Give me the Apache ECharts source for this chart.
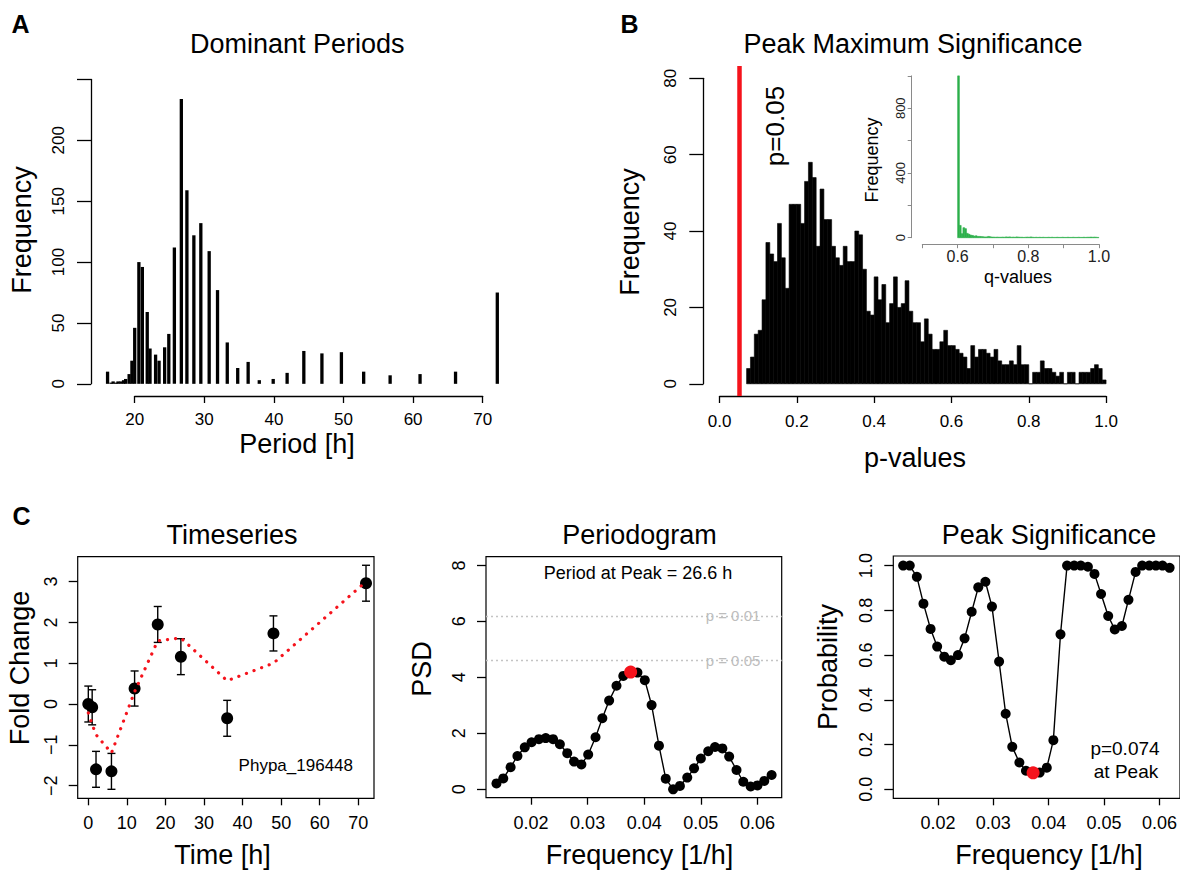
<!DOCTYPE html>
<html><head><meta charset="utf-8">
<script src="https://cdn.jsdelivr.net/npm/echarts@6/dist/echarts.min.js"></script>
<style>html,body{margin:0;padding:0;background:#fff}#c{width:1180px;height:872px}</style>
</head><body><div id="c"></div>
<script>
// ---------------- DATA ----------------
// Panel A: dominant periods histogram
const periodsA = [16.1, 16.6, 16.9, 17.3, 17.6, 18.0, 18.4, 18.7, 19.2, 19.6, 20.0, 20.6, 21.1, 21.8, 22.2, 23.0, 23.5, 24.3, 24.9, 25.7, 26.7, 27.5, 28.5, 29.5, 30.7, 31.9, 33.3, 34.8, 36.3, 37.9, 39.9, 41.9, 44.3, 46.9, 49.7, 52.9, 56.7, 61.0, 66.1, 72.1];
const countsA  = [10, 1, 2, 1, 2, 2, 3, 4, 8, 19, 46, 100, 96, 59, 29, 24, 19, 30, 41, 112, 234, 159, 122, 132, 109, 77, 34, 13, 18, 3, 4, 9, 27, 25, 26, 10, 7, 8, 10, 75];
const xTicksA = [20, 30, 40, 50, 60, 70];
const xLabelsA = ['20', '30', '40', '50', '60', '70'];
const yTicksA = [0, 50, 100, 150, 200, 250];
const yLabelsA = ['0', '50', '100', '150', '200', ''];

// Panel B: p-value histogram (bins of 0.01 starting at 0.07)
const pBinStart = 0.07;
const pBinWidth = 0.01;
const pCounts = [4, 7, 13, 14, 22, 37, 34, 32, 42, 33, 25, 47, 47, 47, 42, 53, 58, 54, 36, 51,
  43, 43, 36, 33, 31, 36, 32, 32, 40, 39, 30, 19, 18, 28, 22, 26, 16, 21, 28, 20, 21, 27,
  19, 16, 16, 11, 17, 13, 9, 9, 11, 14, 10, 10, 9, 8, 7, 4, 10, 7, 9, 9, 8, 7, 9,
  6, 5, 5, 6, 5, 10, 5, 5, 0, 3, 3, 6, 4, 4, 3, 2, 3, 0, 3, 3, 0, 3, 3, 3, 4, 5, 4, 1];
const pThreshold = 0.05;
const xTicksB = [0, 0.2, 0.4, 0.6, 0.8, 1.0];
const xLabelsB = ['0.0', '0.2', '0.4', '0.6', '0.8', '1.0'];
const yTicksB = [0, 20, 40, 60, 80];
const yLabelsB = ['0', '20', '40', '60', '80'];

// Inset: q-value histogram (bins of 0.005 starting at 0.600)
const qBinStart = 0.600;
const qBinWidth = 0.005;
const qCounts = [1000, 76, 25, 62, 56, 27, 21, 16, 14, 10, 12, 8, 8, 7, 6, 5, 5, 8, 6, 4,
  4, 3, 4, 3, 3, 4, 3, 5, 4, 5, 3, 4, 3, 5, 4, 3, 3, 2, 3, 4,
  3, 5, 3, 2, 3, 2, 3, 2, 3, 2, 2, 3, 2, 3, 2, 2, 3, 2, 2, 3,
  2, 2, 3, 2, 2, 3, 2, 2, 3, 2, 2, 3, 2, 3, 3, 4, 3, 4, 3, 2];
const xTicksIn = [0.5, 0.6, 0.7, 0.8, 0.9, 1.0];
const xLabelsIn = ['', '0.6', '', '0.8', '', '1.0'];
const yTicksIn = [0, 200, 400, 600, 800, 1000];
const yLabelsIn = ['0', '', '400', '', '800', ''];

// Panel C1: timeseries
const times = [0, 1, 2, 6, 12, 18, 24, 36, 48, 72];
const foldChange = [0.0, -0.08, -1.6, -1.65, 0.38, 1.95, 1.16, -0.35, 1.73, 2.96];
const foldErr = [0.44, 0.43, 0.44, 0.44, 0.43, 0.44, 0.44, 0.44, 0.43, 0.44];
const foldFit = [-0.22, -0.5, -0.75, -1.2, 0.3, 1.55, 1.62, 0.57, 1.0, 3.0];
const xTicksTS = [0, 10, 20, 30, 40, 50, 60, 70];
const xLabelsTS = ['0', '10', '20', '30', '40', '50', '60', '70'];
const yTicksTS = [-2, -1, 0, 1, 2, 3];
const yLabelsTS = ['\u22122', '\u22121', '0', '1', '2', '3'];

// Panel C2/C3: periodogram and peak significance
const freqs = [0.0139, 0.0151, 0.0164, 0.0176, 0.0189, 0.0201, 0.0214, 0.0226, 0.0239, 0.0251,
  0.0264, 0.0276, 0.0289, 0.0301, 0.0314, 0.0326, 0.0338, 0.0351, 0.0363, 0.0376,
  0.0388, 0.0401, 0.0413, 0.0426, 0.0438, 0.0451, 0.0463, 0.0476, 0.0488, 0.0500,
  0.0513, 0.0525, 0.0538, 0.0550, 0.0563, 0.0575, 0.0588, 0.0600, 0.0612, 0.0625];
const psd = [0.21, 0.39, 0.79, 1.19, 1.5, 1.68, 1.79, 1.83, 1.79, 1.61,
  1.29, 0.99, 0.89, 1.24, 1.86, 2.54, 3.17, 3.7, 4.05, 4.19,
  4.17, 3.9, 3.01, 1.56, 0.38, 0.0, 0.12, 0.42, 0.75, 1.1,
  1.36, 1.51, 1.46, 1.17, 0.69, 0.27, 0.1, 0.14, 0.3, 0.51];
const probability = [1.0, 1.0, 0.95, 0.83, 0.717, 0.638, 0.593, 0.577, 0.6, 0.675,
  0.794, 0.903, 0.928, 0.817, 0.571, 0.338, 0.19, 0.12, 0.083, 0.074,
  0.075, 0.097, 0.22, 0.693, 1.0, 1.0, 1.0, 0.995, 0.963, 0.873,
  0.775, 0.715, 0.73, 0.847, 0.972, 1.0, 1.0, 1.0, 1.0, 0.99];
const peakIndex = 19;
const psdThresholds = [6.2, 4.6];
const psdThresholdLabels = ['p = 0.01', 'p = 0.05'];
const xTicksF = [0.02, 0.03, 0.04, 0.05, 0.06];
const xLabelsF = ['0.02', '0.03', '0.04', '0.05', '0.06'];
const yTicksPG = [0, 2, 4, 6, 8];
const yLabelsPG = ['0', '2', '4', '6', '8'];
const yTicksPS = [0, 0.2, 0.4, 0.6, 0.8, 1.0];
const yLabelsPS = ['0.0', '0.2', '0.4', '0.6', '0.8', '1.0'];

// ---------------- LAYOUT HELPERS ----------------
const FONT = '"Liberation Sans", Arial, Helvetica, sans-serif';
const RED = '#f5131c';
const GREEN = '#2db04b';
const grids = [], xAxes = [], yAxes = [], series = [], graphics = [];

function makeFrame(f) {
  const gi = grids.length;
  grids.push({left: f.left, top: f.top, width: f.right - f.left, height: f.bottom - f.top,
    show: !!f.box, borderColor: '#000', borderWidth: 1.2, backgroundColor: 'transparent'});
  xAxes.push({gridIndex: gi, type: 'value', min: f.xmin, max: f.xmax, show: false});
  yAxes.push({gridIndex: gi, type: 'value', min: f.ymin, max: f.ymax, show: false});
  return {f, xi: xAxes.length - 1, yi: yAxes.length - 1};
}
const PX = (fr, v) => fr.f.left + (v - fr.f.xmin) / (fr.f.xmax - fr.f.xmin) * (fr.f.right - fr.f.left);
const PY = (fr, v) => fr.f.bottom - (v - fr.f.ymin) / (fr.f.ymax - fr.f.ymin) * (fr.f.bottom - fr.f.top);
function fmt(ticks, labels) {
  return v => { const i = ticks.findIndex(t => Math.abs(t - v) < 1e-7); return i >= 0 ? labels[i] : ''; };
}
function addXAxis(fr, ticks, labels, o) {
  const l = PX(fr, ticks[0]), r = PX(fr, ticks[ticks.length - 1]);
  const y = o.y !== undefined ? o.y : fr.f.bottom;
  const gi = grids.length;
  const col = o.color || '#000';
  grids.push({left: l, width: r - l, top: y - 1, height: 1, show: false});
  xAxes.push({gridIndex: gi, type: 'value', position: 'bottom', min: ticks[0], max: ticks[ticks.length - 1],
    interval: ticks[1] - ticks[0],
    axisLine: {show: o.line, lineStyle: {color: col, width: o.lw || 1.3}},
    axisTick: {show: true, length: o.tick, lineStyle: {color: col, width: o.lw || 1.3}},
    axisLabel: {formatter: fmt(ticks, labels), margin: o.margin, fontSize: o.fs, color: o.lc || '#000',
      fontFamily: FONT, showMinLabel: true, showMaxLabel: true},
    splitLine: {show: false}});
  yAxes.push({gridIndex: gi, type: 'value', show: false, min: 0, max: 1});
}
function addYAxis(fr, ticks, labels, o) {
  const t = PY(fr, ticks[ticks.length - 1]), b = PY(fr, ticks[0]);
  const x = o.x !== undefined ? o.x : fr.f.left;
  const gi = grids.length;
  const col = o.color || '#000';
  grids.push({left: x, width: 1, top: t, height: b - t, show: false});
  xAxes.push({gridIndex: gi, type: 'value', show: false, min: 0, max: 1});
  yAxes.push({gridIndex: gi, type: 'value', position: 'left', min: ticks[0], max: ticks[ticks.length - 1],
    interval: ticks[1] - ticks[0],
    axisLine: {show: o.line, lineStyle: {color: col, width: o.lw || 1.3}},
    axisTick: {show: true, length: o.tick, lineStyle: {color: col, width: o.lw || 1.3}},
    axisLabel: {formatter: fmt(ticks, labels), margin: o.margin, fontSize: o.fs, color: o.lc || '#000',
      fontFamily: FONT, rotate: 90, showMinLabel: true, showMaxLabel: true},
    splitLine: {show: false}});
}
function text(t, x, y, fs, opt) {
  opt = opt || {};
  graphics.push({type: 'text', x: x, y: y, rotation: opt.rot ? Math.PI / 2 : 0, z: 100,
    style: {text: t, x: 0, y: 0, fill: opt.color || '#000', fontSize: fs, fontFamily: FONT,
      fontWeight: opt.bold ? 'bold' : 'normal',
      align: 'center', verticalAlign: 'middle', textAlign: 'center', textVerticalAlign: 'middle'}});
}
function histSeries(fr, starts, counts, width, color, extra) {
  return Object.assign({
    type: 'custom', xAxisIndex: fr.xi, yAxisIndex: fr.yi, clip: false,
    data: counts.map((c, i) => [starts(i), c]),
    encode: {x: 0, y: 1},
    renderItem: (p, api) => {
      const x0 = api.value(0), v = api.value(1);
      const a = api.coord([x0, 0]), b = api.coord([x0 + width, v]);
      return {type: 'rect', shape: {x: a[0], y: b[1], width: b[0] - a[0], height: a[1] - b[1]},
        style: {fill: color, stroke: color, lineWidth: 0.6}};
    }
  }, extra || {});
}

// ---------------- PANEL A ----------------
const frA = makeFrame({left: 91, right: 514.7, top: 67.3, bottom: 396, xmin: 13.72, xmax: 74.6, ymin: -10, ymax: 260});
addXAxis(frA, xTicksA, xLabelsA, {line: true, tick: 7, margin: 15, fs: 17});
addYAxis(frA, yTicksA, yLabelsA, {line: true, tick: 14, margin: 24, fs: 17});
series.push({
  type: 'custom', xAxisIndex: frA.xi, yAxisIndex: frA.yi, clip: false,
  data: periodsA.map((p, i) => [p, countsA[i]]), encode: {x: 0, y: 1},
  renderItem: (p, api) => {
    const a = api.coord([api.value(0), 0]), b = api.coord([api.value(0), api.value(1)]);
    const w = 3.3;
    return {type: 'rect', shape: {x: a[0] - w / 2, y: b[1], width: w, height: a[1] - b[1]}, style: {fill: '#000'}};
  }
});

// ---------------- PANEL B ----------------
const frB = makeFrame({left: 703.3, right: 1122.3, top: 66.1, bottom: 396, xmin: -0.042, xmax: 1.042, ymin: -3.2, ymax: 83.2});
addXAxis(frB, xTicksB, xLabelsB, {line: true, tick: 7, margin: 17, fs: 17});
addYAxis(frB, yTicksB, yLabelsB, {line: true, tick: 14, margin: 24, fs: 17});
series.push(histSeries(frB, i => pBinStart + i * pBinWidth, pCounts, pBinWidth, '#000', {
  markLine: {silent: true, symbol: ['none', 'none'], label: {show: false},
    lineStyle: {color: RED, width: 4.5, type: 'solid'}, data: [{xAxis: pThreshold}]}
}));

// Inset
const frIn = makeFrame({left: 911.7, right: 1106, top: 69.4, bottom: 244.2, xmin: 0.47, xmax: 1.02, ymin: -40, ymax: 1040});
addXAxis(frIn, xTicksIn, xLabelsIn, {line: true, tick: 4, margin: 4, fs: 16, color: '#8a8a8a', lc: '#222', lw: 1});
addYAxis(frIn, yTicksIn, yLabelsIn, {line: true, tick: 4, margin: 5, fs: 13, color: '#8a8a8a', lc: '#222', lw: 1});
series.push(histSeries(frIn, i => qBinStart + i * qBinWidth, qCounts, qBinWidth, GREEN));

// ---------------- PANEL C1 ----------------
const frTS = makeFrame({box: true, left: 77.7, right: 374, top: 556.7, bottom: 798.3, xmin: -2.75, xmax: 74.07, ymin: -2.31, ymax: 3.61});
addXAxis(frTS, xTicksTS, xLabelsTS, {line: false, tick: 7, margin: 16, fs: 18});
addYAxis(frTS, yTicksTS, yLabelsTS, {line: false, tick: 9, margin: 18, fs: 18});
series.push({
  type: 'custom', xAxisIndex: frTS.xi, yAxisIndex: frTS.yi,
  data: times.map((t, i) => [t, foldChange[i] - foldErr[i], foldChange[i] + foldErr[i]]),
  encode: {x: 0, y: [1, 2]},
  renderItem: (p, api) => {
    const x = api.value(0);
    const a = api.coord([x, api.value(1)]), b = api.coord([x, api.value(2)]);
    const w = 4, st = {stroke: '#000', lineWidth: 1.4};
    return {type: 'group', children: [
      {type: 'line', shape: {x1: a[0], y1: a[1], x2: b[0], y2: b[1]}, style: st},
      {type: 'line', shape: {x1: a[0] - w, y1: a[1], x2: a[0] + w, y2: a[1]}, style: st},
      {type: 'line', shape: {x1: b[0] - w, y1: b[1], x2: b[0] + w, y2: b[1]}, style: st}]};
  }
});
series.push({type: 'scatter', xAxisIndex: frTS.xi, yAxisIndex: frTS.yi, symbol: 'circle', symbolSize: 12,
  itemStyle: {color: '#000', opacity: 1}, data: times.map((t, i) => [t, foldChange[i]])});
series.push({type: 'line', xAxisIndex: frTS.xi, yAxisIndex: frTS.yi, showSymbol: false, symbol: 'none',
  lineStyle: {color: RED, width: 3.2, type: [0.1, 8], cap: 'round', opacity: 1}, z: 5,
  data: times.map((t, i) => [t, foldFit[i]])});

// ---------------- PANEL C2 ----------------
const frPG = makeFrame({box: true, left: 486, right: 781.7, top: 556.7, bottom: 797.7, xmin: 0.01205, xmax: 0.06428, ymin: -0.3, ymax: 8.31});
addXAxis(frPG, xTicksF, xLabelsF, {line: false, tick: 7, margin: 16, fs: 18});
addYAxis(frPG, yTicksPG, yLabelsPG, {line: false, tick: 9, margin: 18, fs: 18});
series.push({type: 'line', xAxisIndex: frPG.xi, yAxisIndex: frPG.yi, symbol: 'circle', symbolSize: 10,
  itemStyle: {color: '#000', opacity: 1}, lineStyle: {color: '#000', width: 1.4},
  data: freqs.map((f, i) => [f, psd[i]]),
  markLine: {silent: true, symbol: ['none', 'none'], label: {show: false},
    lineStyle: {color: '#c4c4c4', width: 1.3, type: [2, 3]},
    data: psdThresholds.map(v => ({yAxis: v}))}
});
series.push({type: 'scatter', xAxisIndex: frPG.xi, yAxisIndex: frPG.yi, symbolSize: 13, z: 10,
  itemStyle: {color: RED, opacity: 1}, data: [[freqs[peakIndex], psd[peakIndex]]]});

// ---------------- PANEL C3 ----------------
const frPS = makeFrame({box: true, left: 893.3, right: 1189, top: 556, bottom: 798.3, xmin: 0.0121, xmax: 0.0644, ymin: -0.04, ymax: 1.043});
addXAxis(frPS, xTicksF, xLabelsF, {line: false, tick: 7, margin: 16, fs: 18});
addYAxis(frPS, yTicksPS, yLabelsPS, {line: false, tick: 9, margin: 18, fs: 18});
series.push({type: 'line', xAxisIndex: frPS.xi, yAxisIndex: frPS.yi, symbol: 'circle', symbolSize: 10,
  itemStyle: {color: '#000', opacity: 1}, lineStyle: {color: '#000', width: 1.4},
  data: freqs.map((f, i) => [f, probability[i]])});
series.push({type: 'scatter', xAxisIndex: frPS.xi, yAxisIndex: frPS.yi, symbolSize: 13, z: 10,
  itemStyle: {color: RED, opacity: 1}, data: [[freqs[peakIndex], probability[peakIndex]]]});

// ---------------- TEXTS ----------------
text('A', 20.5, 24, 25, {bold: true});
text('B', 629.5, 24, 25, {bold: true});
text('C', 21.5, 516, 25, {bold: true});
text('Dominant Periods', 297.3, 44, 27);
text('Frequency', 21.7, 230, 27, {rot: true});
text('Period [h]', 297, 444, 27);
text('Peak Maximum Significance', 913, 44, 27);
text('Frequency', 630, 232, 27, {rot: true});
text('p-values', 915, 458, 27);
text('p=0.05', 775, 126, 26, {rot: true});
text('Frequency', 872, 160, 18, {rot: true});
text('q-values', 1018, 277, 18);
text('Timeseries', 232, 535, 27);
text('Fold Change', 20, 668, 27, {rot: true});
text('Time [h]', 222.5, 855, 27);
text('Phypa_196448', 295.8, 765, 17);
text('Periodogram', 639.5, 535, 27);
text('PSD', 422, 669, 27, {rot: true});
text('Frequency [1/h]', 639.5, 855, 27);
text('Period at Peak = 26.6 h', 638, 573, 18);
psdThresholds.forEach((v, i) => text(psdThresholdLabels[i], 733, PY(frPG, v), 15, {color: '#bdbdbd'}));
text('Peak Significance', 1049, 535, 27);
text('Probability', 828, 667, 27, {rot: true});
text('Frequency [1/h]', 1049, 855, 27);
text('p=0.074', 1125, 748, 19);
text('at Peak', 1126, 771, 19);

const chart = echarts.init(document.getElementById('c'), null, {renderer: 'svg', width: 1180, height: 872});
chart.setOption({
  backgroundColor: '#fff',
  animation: false,
  textStyle: {fontFamily: FONT},
  grid: grids, xAxis: xAxes, yAxis: yAxes, series: series, graphic: graphics
});
</script></body></html>
